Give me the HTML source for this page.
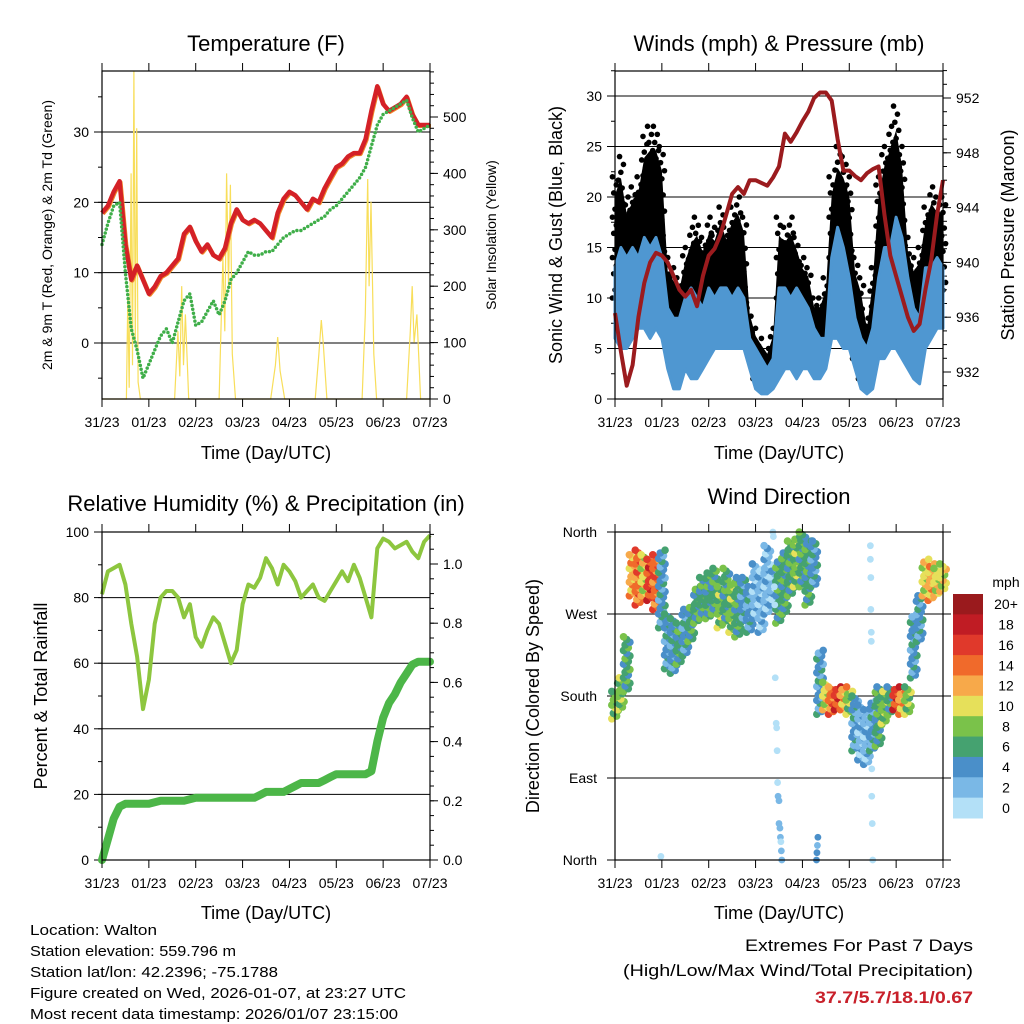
<!DOCTYPE html>
<html><head><meta charset="utf-8"><style>
html,body{margin:0;padding:0;background:#fff;}
svg{display:block;font-family:"Liberation Sans",sans-serif;}
</style></head><body>
<svg id="chart" width="1024" height="1024" viewBox="0 0 1024 1024"></svg>
<script>
// ---------- DATA (3-hourly, day 0..7) ----------
const dayLabels = ["31/23","01/23","02/23","03/23","04/23","05/23","06/23","07/23"];
const tempRed = [18.5,19.5,21.5,23,14,9,11,9,7,8,9.5,10,11,12,15.5,16.5,14.5,13,14,12.5,12,13.5,17,19,17.5,17,17.5,17,16,15,18.5,20.5,21.5,21,20,19,20.5,20,22,23.5,25,25.5,26.5,27,27,29,33,36.5,34,33,33.5,34,35,32.5,31,31,31];
const dewGreen = [14,17,19.5,20,10,2,-1,-5,-3,-1,1,2,0,3,6,7,2.5,3,4.5,6,4,6,9,10,11.5,13,12.5,12.5,13,13,14,15,15.5,16,16,16.5,17,17.5,18,19,19.5,20.5,21.5,22.5,23.5,25,28,31,32.5,33,33.5,34,34.5,32,30,30.5,31];
const solarT = [0,0.52,0.55,0.58,0.62,0.65,0.68,0.71,0.74,0.77,0.82,1.55,1.62,1.66,1.7,1.74,1.78,1.85,2.5,2.58,2.62,2.66,2.7,2.74,2.78,2.85,3.6,3.7,3.75,3.8,3.9,4.55,4.63,4.68,4.72,4.8,5.55,5.62,5.67,5.7,5.74,5.8,5.86,6.5,6.58,6.62,6.66,6.72,6.8,7];
const solarV = [0,0,180,20,400,60,590,100,480,30,0,0,120,40,200,60,150,0,0,250,120,400,200,380,80,0,0,60,110,50,0,0,80,140,100,0,0,150,390,200,350,80,0,0,120,200,100,150,0,0];
const blueLo = [6,5,5,6,7,7,6,7,6,3,1,1,3,2,2,3,4,5,5,5,5,5,5,3,1,0.5,0.5,1,2,3,3,2,3,3,2,2,3,6,6,5,5,3,1,0.5,1,4,4,5,5,4,3,2,1.5,5,6,7,7];
const blueHi = [13,15,14,15,14,16,15,16,14,9,8,8,10,11,10,9,11,10,11,11,10,11,10,6,5,4,3,4,11,11,10,11,10,9,7,6,6,14,17,15,12,8,6,5,7,12,15,15,18,16,12,9,8,13,13,14,13];
const gustLo = [10,10,9,11,12,12,11,11,9,5,4,4,6,6,6,6,7,8,9,9,9,9,8,5,2,1.5,1.5,2,6,7,7,8,7,7,4,4,4,10,11,10,9,4,2,1,3,9,12,12,13,12,7,5,5,9,10,10,10];
const gustHi = [22,24,20,21,22,26,27,27,25,14,13,12,15,17,18,16,18,17,19,17,19,20,18,9,7,6,5,7,18,17,18,16,14,13,10,10,12,22,25,24,22,14,12,8,13,22,25,27,29,25,16,14,15,19,21,20,20];
const pressure = [936.3,933.5,931,932.5,936,938.5,940,940.7,940.5,940,939,938,937.5,938,936.8,939,940.5,941,942,943.5,945,945.5,945,946,946,945.8,945.6,946.2,947,949.4,948.8,949.5,950.3,951,952,952.4,952.4,951.8,949,946.7,946.7,946.3,946,946.5,946.8,947,943.5,940.5,939,937.5,936,935,935.5,938,940.2,943.5,946];
const rh = [81,88,89,90,84,72,62,46,55,72,80,82,82,80,74,78,68,65,70,74,72,66,60,64,78,84,83,86,92,89,84,90,88,85,80,82,84,80,79,82,85,88,85,90,86,80,74,95,98,97,95,96,97,94,92,97,99];
const precip = [0,0.07,0.14,0.18,0.19,0.19,0.19,0.19,0.19,0.195,0.2,0.2,0.2,0.2,0.2,0.205,0.21,0.21,0.21,0.21,0.21,0.21,0.21,0.21,0.21,0.21,0.21,0.22,0.23,0.23,0.23,0.23,0.24,0.25,0.26,0.26,0.26,0.26,0.27,0.28,0.29,0.29,0.29,0.29,0.29,0.29,0.3,0.4,0.48,0.53,0.56,0.6,0.63,0.66,0.67,0.67,0.67];
const dirLo = [155,165,185,290,280,290,285,275,255,210,205,215,225,240,260,265,265,270,255,260,250,245,260,250,265,250,270,280,260,270,290,300,300,280,300,160,165,160,165,165,160,120,110,105,120,125,150,160,165,160,160,200,240,290,285,290,295];
const dirHi = [185,200,245,335,340,335,330,335,340,270,265,260,275,280,300,310,315,320,300,320,305,310,310,300,325,320,345,320,330,340,350,355,360,350,350,230,195,190,190,190,185,180,170,165,175,190,185,190,190,185,190,270,290,330,325,320,325];
const dirSpd = [9,9,7,12,14,11,16,15,4,5,4,6,5,7,6,7,6,7,9,7,8,6,5,4,3,2,3,2,7,6,7,8,7,6,4,4,10,14,16,12,8,4,3,2,4,6,8,7,16,12,8,5,4,10,12,11,10];
const outT = [3.37,3.38,3.4,3.41,3.42,3.44,3.45,3.46,3.47,3.48,3.5,3.5,3.52,3.53,3.54,3.55,3.56,5.45,5.45,5.46,5.46,5.47,5.47,5.48,5.48,5.49,5.5,0.98,4.3,4.31,4.32,4.33];
const outDeg = [360,355,300,280,200,150,145,120,85,70,65,40,35,25,20,10,0,345,330,310,275,250,240,100,70,40,0,4,0,8,16,25];
const outSpd = [1,1,1,1,1,1,1,1,1,2,2,2,2,2,1,2,2,1,1,1,1,1,1,1,1,1,1,1,4,4,3,4];
const speedLabels = ["0","2","4","6","8","10","12","14","16","18","20+"];
const speedColors = ["#b3e0f7","#7ab8e6","#4a8fc9","#45a270","#7ac24a","#e6e05a","#f7a94a","#f06a2b","#e0392b","#c01c24","#9a1a1d"];

// ---------- HELPERS ----------
const NS="http://www.w3.org/2000/svg";
const svg=document.getElementById('chart');
function mk(tag,attrs,parent){const e=document.createElementNS(NS,tag);for(const k in attrs)e.setAttribute(k,attrs[k]);(parent||svg).appendChild(e);return e;}
function txt(s,x,y,size,opts,parent){opts=opts||{};const e=mk('text',{x:x,y:y,'font-size':size,'text-anchor':opts.anchor||'middle',fill:opts.fill||'#000'},parent);if(opts.weight)e.setAttribute('font-weight',opts.weight);if(opts.rot)e.setAttribute('transform','rotate('+opts.rot+' '+x+' '+y+')');if(opts.len){e.setAttribute('textLength',opts.len);e.setAttribute('lengthAdjust','spacingAndGlyphs');}e.textContent=s;return e;}
function lin(d0,d1,r0,r1){return v=>r0+(v-d0)*(r1-r0)/(d1-d0);}
const tOf=i=>i*0.125;

function panelFrame(g,L,R,T,B,xs){
  dayLabels.forEach((lab,i)=>{const x=xs(i);
    const tk=mk('line',{x1:x,x2:x,y1:B,y2:B+8,stroke:'#000','stroke-width':1},g);
    
    mk('line',{x1:x,x2:x,y1:T,y2:T-8,stroke:'#000','stroke-width':1},g);
    const t=txt(lab,x,B+28,14,{},g);
    
  });
  const fr=mk('rect',{x:L,y:T,width:R-L,height:B-T,fill:'none',stroke:'#000','stroke-width':1.2},g);
  
}
function yAxis(g,side,x,ys,majors,minors,fmt,grid,L,R){
  const dir=side==='left'?-1:1;
  minors.forEach(v=>{const y=ys(v);mk('line',{x1:x,x2:x+dir*4,y1:y,y2:y,stroke:'#000','stroke-width':1},g);});
  majors.forEach(v=>{const y=ys(v);
    mk('line',{x1:x,x2:x+dir*8,y1:y,y2:y,stroke:'#000','stroke-width':1},g);
    if(grid){const gl=mk('line',{x1:L,x2:R,y1:y,y2:y,stroke:'#000','stroke-width':1},g);}
    const t=txt(fmt(v),x+dir*13,y+5,14,{anchor:side==='left'?'end':'start'},g);
    
  });
}
function range(a,b,s){const r=[];for(let v=a;v<=b+1e-9;v+=s)r.push(+v.toFixed(4));return r;}
function path(pts){return pts.map((p,i)=>(i?'L':'M')+p[0].toFixed(1)+','+p[1].toFixed(1)).join('');}

// ---------- PANEL 1: TEMPERATURE ----------
(function(){
  const L=102,R=430,T=71,B=399;
  const g=mk('g',{});
  const xs=lin(0,7,L,R), ys=lin(0,30,343,132), ysS=lin(0,500,399,117);
  const tl=txt('Temperature (F)',266,51,22,{},g);
  yAxis(g,'left',L,ys,[0,10,20,30],range(-5,35,5),v=>v,true,L,R);
  yAxis(g,'right',R,ysS,[0,100,200,300,400,500],range(0,580,20),v=>v,false);
  const sp=mk('path',{d:path(solarT.map((t,i)=>[xs(t),Math.max(T,ysS(solarV[i]))])),fill:'none',stroke:'#f8de5a','stroke-width':1.2},g);
  
  const rp=mk('path',{d:path(tempRed.map((v,i)=>[xs(tOf(i)),ys(v)])),fill:'none',stroke:'#f08a2a','stroke-width':4,'stroke-linejoin':'round',transform:'translate(1,1)'},g);
  
  const r2=mk('path',{d:path(tempRed.map((v,i)=>[xs(tOf(i)),ys(v)])),fill:'none',stroke:'#d42127','stroke-width':4.5,'stroke-linejoin':'round'},g);
  
  const gp=mk('path',{d:path(dewGreen.map((v,i)=>[xs(tOf(i)),ys(v)])),fill:'none',stroke:'#3fae49','stroke-width':3.5,'stroke-linecap':'round','stroke-dasharray':'0 4'},g);
  
  panelFrame(g,L,R,T,B,i=>xs(i));
  const xt=txt('Time (Day/UTC)',266,459,18,{},g);
  const yl=txt('2m & 9m T (Red, Orange) & 2m Td (Green)',52,235,14,{rot:-90},g);
  const yr=txt('Solar Insolation (Yellow)',496,235,14,{rot:-90},g);
})();

// ---------- PANEL 2: WINDS ----------
(function(){
  const L=615,R=943,T=71,B=399;
  const g=mk('g',{});
  const xs=lin(0,7,L,R), ys=lin(0,30,399,96), ysP=lin(932,952,372,98);
  const tl=txt('Winds (mph) & Pressure (mb)',779,51,22,{},g);
  yAxis(g,'left',L,ys,[0,5,10,15,20,25,30],range(0,32.5,2.5),v=>v,true,L,R);
  yAxis(g,'right',R,ysP,[932,936,940,944,948,952],range(931,954,1),v=>v,false);
  // gust dots: per interval, dots spaced through lo..hi
  gustHi.forEach((hi,i)=>{
    const lo=gustLo[i];const n=Math.max(3,Math.round((hi-lo)/0.8));
    for(let j=0;j<=n;j++){
      const v=lo+(hi-lo)*j/n;const off=((j*7)%5-2)*1.3;
      const c=mk('circle',{cx:xs(tOf(i))+off,cy:ys(v),r:2.8,fill:'#000'},g);
      
    }
  });
  const up=gustHi.map((v,i)=>[xs(tOf(i)),ys(v*0.85+gustLo[i]*0.15)]), dn=gustLo.map((v,i)=>[xs(tOf(i)),ys(v)]).reverse();
  const gb=mk('path',{d:path(up.concat(dn))+'Z',fill:'#000',stroke:'none'},g);
  
  const bu=blueHi.map((v,i)=>[xs(tOf(i)),ys(v)]), bd=blueLo.map((v,i)=>[xs(tOf(i)),ys(v)]).reverse();
  const bb=mk('path',{d:path(bu.concat(bd))+'Z',fill:'#4f97d1',stroke:'#4f97d1','stroke-width':3,'stroke-linejoin':'round'},g);
  
  const pp=mk('path',{d:path(pressure.map((v,i)=>[xs(tOf(i)),ysP(v)])),fill:'none',stroke:'#9b1b1e','stroke-width':4,'stroke-linejoin':'round'},g);
  
  panelFrame(g,L,R,T,B,i=>xs(i));
  const xt=txt('Time (Day/UTC)',779,459,18,{},g);
  const yl=txt('Sonic Wind & Gust (Blue, Black)',562,235,18,{rot:-90},g);
  const yr=txt('Station Pressure (Maroon)',1014,235,18,{rot:-90},g);
})();

// ---------- PANEL 3: RH & PRECIP ----------
(function(){
  const L=102,R=430,T=532,B=860;
  const g=mk('g',{});
  const xs=lin(0,7,L,R), ys=lin(0,100,860,532), ysR=lin(0,1,860,564);
  const tl=txt('Relative Humidity (%) & Precipitation (in)',266,511,22,{},g);
  yAxis(g,'left',L,ys,[0,20,40,60,80,100],range(0,100,10),v=>v,true,L,R);
  yAxis(g,'right',R,ysR,[0,0.2,0.4,0.6,0.8,1.0],range(0,1.1,0.05),v=>v.toFixed(1),false);
  const hp=mk('path',{d:path(rh.map((v,i)=>[xs(tOf(i)),ys(v)])),fill:'none',stroke:'#8dc63f','stroke-width':4,'stroke-linejoin':'round'},g);
  
  const pp=mk('path',{d:path(precip.map((v,i)=>[xs(tOf(i)),ysR(v)])),fill:'none',stroke:'#4cb648','stroke-width':8,'stroke-linejoin':'round','stroke-linecap':'round'},g);
  
  panelFrame(g,L,R,T,B,i=>xs(i));
  const xt=txt('Time (Day/UTC)',266,919,18,{},g);
  const yl=txt('Percent & Total Rainfall',47,696,18,{rot:-90},g);
})();

// ---------- PANEL 4: WIND DIRECTION ----------
(function(){
  const L=615,R=943,T=532,B=860;
  const g=mk('g',{});
  const xs=lin(0,7,L,R), ys=lin(0,360,860,532);
  const tl=txt('Wind Direction',779,504,22,{},g);
  const names=['North','East','South','West','North'];
  [0,90,180,270,360].forEach((d,i)=>{const y=ys(d);
    mk('line',{x1:L-8,x2:R+8,y1:y,y2:y,stroke:'#000','stroke-width':1},g);
    const t=txt(names[i],L-18,y+5,14,{anchor:'end'},g);});
  const col=s=>speedColors[Math.max(0,Math.min(10,Math.floor(s/2)))];
  dirLo.forEach((lo,i)=>{
    const hi=dirHi[i];const n=Math.max(3,Math.round((hi-lo)/3));
    for(let j=0;j<=n;j++){
      const d=lo+(hi-lo)*j/n;const off=((j*3)%5-2)*1.6;
      const c=mk('circle',{cx:xs(tOf(i))+off,cy:ys(d),r:3.8,fill:col(dirSpd[i]+((j%4===0)?2:(j%4===2?-2:0)))},g);
      
    }
  });
  outT.forEach((t,i)=>{const c=mk('circle',{cx:xs(t),cy:ys(outDeg[i]),r:3.4,fill:col(outSpd[i])},g);
    });
  panelFrame(g,L,R,T,B,i=>xs(i));
  const xt=txt('Time (Day/UTC)',779,919,18,{},g);
  const yl=txt('Direction (Colored By Speed)',539,696,18,{rot:-90},g);
  const cb=mk('g',{},g);
  const h=224/11;
  speedLabels.forEach((lab,i)=>{const k=10-i;const y=594+i*h;
    const r=mk('rect',{x:953,y:y,width:30,height:h+0.5,fill:speedColors[k]},cb);
    
    const t=txt(speedLabels[k],1006,y+h/2+5,14,{},cb);});
  const u=txt('mph',1006,587,14,{},cb);
})();

// ---------- FOOTER ----------
const foot=["Location: Walton","Station elevation: 559.796 m","Station lat/lon: 42.2396; -75.1788","Figure created on Wed, 2026-01-07, at 23:27 UTC","Most recent data timestamp: 2026/01/07 23:15:00"];
const fl=[127,206,248,376,368];
foot.forEach((s,i)=>{const t=txt(s,30,935+i*21,15,{anchor:'start',len:fl[i]},svg);
  });
const e1=txt('Extremes For Past 7 Days',973,951,17,{anchor:'end',len:228});

const e2=txt('(High/Low/Max Wind/Total Precipitation)',973,976,17,{anchor:'end',len:350});

const e3=txt('37.7/5.7/18.1/0.67',973,1003,17,{anchor:'end',fill:'#c8202a',weight:'bold',len:158});

</script>
</body></html>
